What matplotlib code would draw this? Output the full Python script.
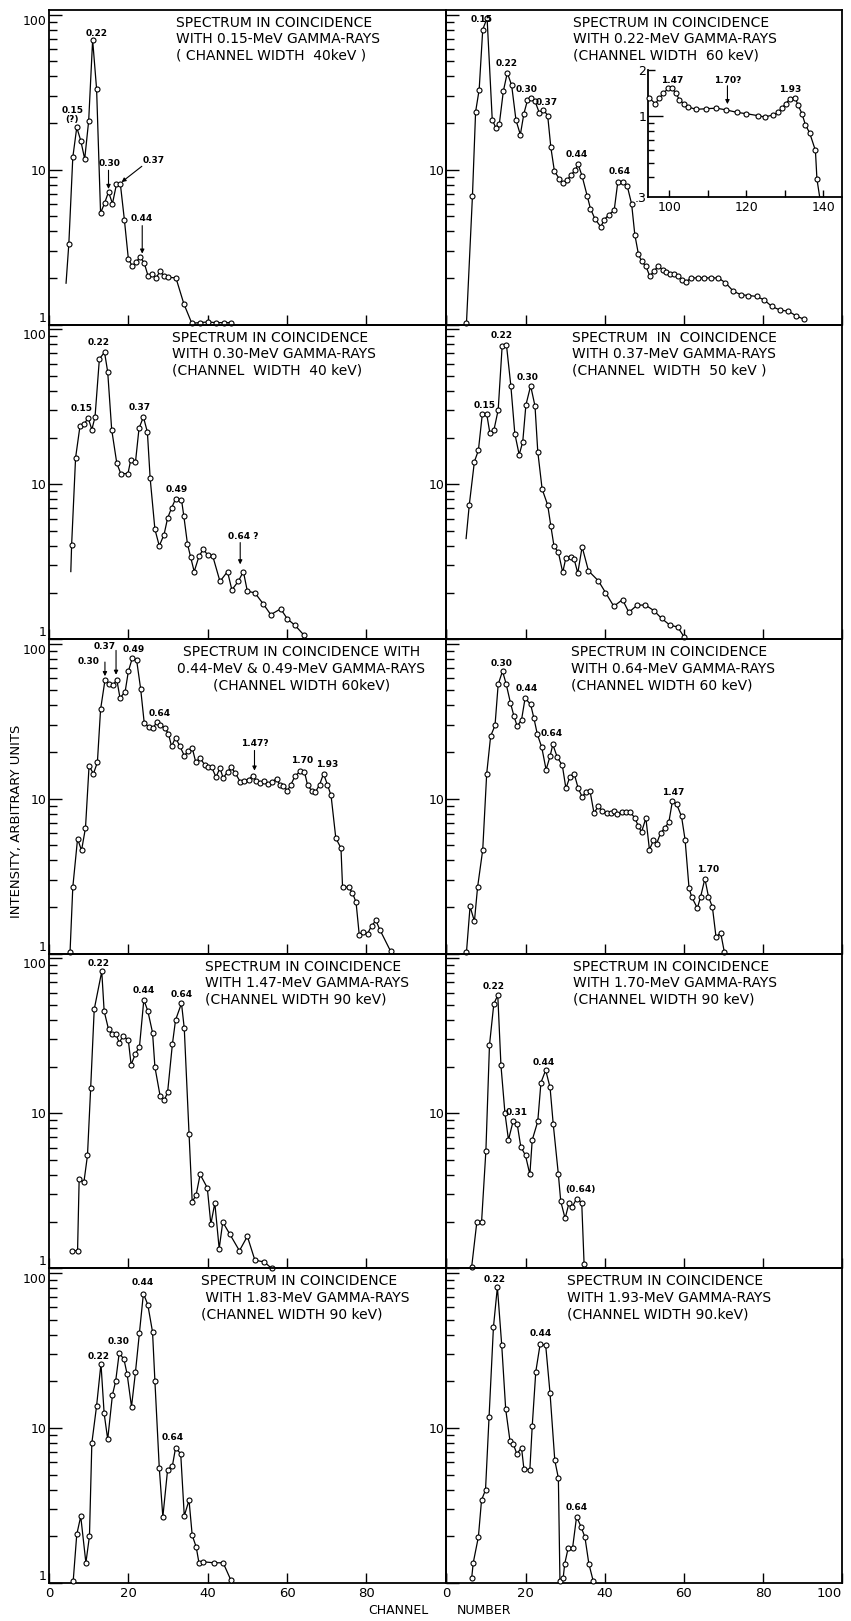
import matplotlib
matplotlib.use("Agg")
import matplotlib.pyplot as plt
from matplotlib.ticker import FixedLocator, FixedFormatter, NullFormatter

plt.rcParams['font.family'] = ['DejaVu Sans']

# ---------------- spectra (channel number, intensity) ----------------
x1 = [4.3, 5, 6, 7, 8, 9, 10, 11, 12, 13, 14, 15, 16, 17, 18, 19, 20, 21, 22, 23, 24,
      25, 26, 27, 28, 29, 30, 32, 34, 36, 38, 40, 42, 44, 46]
y1 = [1.85, 3.32, 12.0, 18.7, 15.4, 11.7, 20.6, 68.6, 33.0, 5.24, 6.07, 7.17, 6.04, 8.02,
      8.02, 4.75, 2.66, 2.38, 2.54, 2.73, 2.50, 2.05, 2.11, 2.00, 2.21, 2.05, 2.02, 2.00,
      1.36, 1.02, 1.03, 1.04, 1.03, 1.03, 1.03]

x2 = [5.1, 6.6, 7.4, 8.3, 9.2, 10.3, 11.6, 12.5, 13.4, 14.4, 15.4, 16.5, 17.6, 18.7, 19.6,
      20.5, 21.5, 22.4, 23.5, 24.5, 25.6, 26.4, 27.3, 28.5, 29.5, 30.6, 31.6, 32.5, 33.3,
      34.3, 35.6, 36.4, 37.5, 39.0, 39.9, 41.1, 42.4, 43.3, 44.5, 45.7, 46.8, 47.6, 48.5,
      49.3, 50.4, 51.4, 52.4, 53.5, 54.6, 55.6, 56.6, 57.6, 58.6, 59.6, 60.5, 61.8, 63.6,
      65.2, 66.8, 68.7, 70.5, 72.5, 74.4, 76.3, 78.4, 80.3, 82.2, 84.3, 86.4, 88.3, 90.4]
y2 = [1.03, 6.73, 23.6, 32.8, 80.0, 95.0, 21.0, 18.6, 19.8, 32.0, 42.1, 35.0, 20.8, 16.8,
      23.0, 28.0, 29.0, 27.6, 23.2, 24.4, 22.3, 13.9, 9.76, 8.75, 8.20, 8.62, 9.29, 9.90,
      10.8, 9.06, 6.73, 5.60, 4.83, 4.27, 4.76, 5.13, 5.47, 8.28, 8.28, 7.81, 6.00, 3.81,
      2.86, 2.56, 2.38, 2.05, 2.21, 2.38, 2.26, 2.18, 2.12, 2.13, 2.05, 1.95, 1.88, 2.00,
      2.00, 2.00, 2.00, 2.00, 1.86, 1.64, 1.56, 1.54, 1.52, 1.44, 1.31, 1.24, 1.22, 1.14,
      1.08]

# high-energy part of the 0.22-MeV spectrum (inset)
xi = [94.8, 96.3, 97.4, 98.4, 99.7, 100.6, 101.7, 102.6, 103.7, 104.8, 107.0, 109.6,
      112.2, 114.8, 117.6, 120.0, 123.0, 124.8, 127.0, 128.3, 129.3, 130.3, 131.4, 132.7,
      133.5, 134.5, 135.4, 136.5, 138.0, 138.4, 139.1]
yi = [1.31, 1.21, 1.31, 1.41, 1.52, 1.53, 1.41, 1.28, 1.21, 1.15, 1.11, 1.12, 1.13, 1.10,
      1.06, 1.04, 1.01, 0.99, 1.02, 1.06, 1.13, 1.21, 1.30, 1.32, 1.18, 1.04, 0.88, 0.78,
      0.60, 0.39, 0.30]

x3 = [5.5, 5.7, 6.7, 7.8, 8.8, 9.9, 10.8, 11.6, 12.7, 14.0, 14.8, 15.8, 17.1, 18.1, 19.9,
      20.6, 21.8, 22.7, 23.8, 24.8, 25.5, 26.7, 27.8, 29.0, 29.9, 30.9, 31.9, 33.4, 34.0,
      34.9, 35.7, 36.6, 37.8, 38.9, 40.0, 41.3, 43.1, 45.0, 46.1, 47.7, 49.0, 50.0, 51.9,
      54.0, 55.9, 58.4, 60.1, 62.0, 64.3]
y3 = [2.73, 4.04, 14.8, 23.6, 24.5, 26.6, 22.5, 27.1, 64.3, 71.0, 52.9, 22.5, 13.6, 11.7,
      11.7, 14.3, 13.9, 23.0, 27.1, 21.7, 10.9, 5.11, 4.00, 4.73, 6.04, 7.03, 8.02, 7.94,
      6.19, 4.12, 3.39, 2.73, 3.42, 3.81, 3.49, 3.42, 2.36, 2.73, 2.08, 2.36, 2.73, 2.04,
      1.99, 1.69, 1.44, 1.57, 1.35, 1.23, 1.06]

x4 = [5.0, 5.8, 7.1, 8.1, 9.1, 10.2, 11.0, 12.0, 13.1, 14.1, 15.2, 16.3, 17.3, 18.4, 19.3,
      20.1, 21.3, 22.4, 23.1, 24.2, 25.6, 26.4, 27.2, 28.3, 29.4, 30.2, 31.5, 32.3, 33.2,
      34.3, 35.9, 38.4, 40.2, 42.3, 44.5, 46.1, 48.2, 50.3, 52.4, 54.4, 56.5, 58.4, 60.1]
y4 = [4.46, 7.34, 14.0, 16.5, 28.4, 28.4, 21.4, 22.2, 30.1, 77.5, 78.7, 43.1, 21.2, 15.5,
      18.7, 32.4, 43.1, 31.9, 16.2, 9.29, 7.34, 5.37, 3.98, 3.63, 2.70, 3.35, 3.40, 3.27,
      2.67, 3.94, 2.76, 2.38, 2.00, 1.63, 1.80, 1.49, 1.66, 1.66, 1.53, 1.36, 1.23, 1.20,
      1.03]

x5 = [5.3, 6.0, 7.2, 8.2, 9.2, 10.1, 11.2, 12.2, 13.0, 14.1, 15.2, 16.2, 17.1, 17.9, 19.2,
      20.0, 21.0, 22.1, 23.1, 24.0, 25.2, 26.3, 27.1, 28.1, 29.2, 30.1, 30.9, 31.9, 33.0,
      34.1, 35.1, 36.1, 37.0, 38.1, 39.2, 40.2, 41.0, 42.1, 43.1, 43.9, 45.0, 45.9, 46.9,
      48.2, 49.2, 50.3, 51.3, 52.2, 53.2, 54.2, 55.3, 56.3, 57.4, 58.2, 59.1, 60.1, 60.9,
      62.0, 63.3, 64.4, 65.2, 66.2, 67.1, 68.2, 69.2, 70.2, 71.1, 72.3, 73.6, 74.0, 75.5,
      76.5, 77.4, 78.2, 79.1, 80.3, 81.3, 82.4, 83.4, 86.1]
y5 = [1.02, 2.69, 5.52, 4.64, 6.50, 16.3, 14.5, 17.2, 37.7, 58.0, 55.2, 54.4, 58.6, 44.6,
      49.2, 66.3, 80.8, 78.0, 51.3, 30.9, 29.0, 28.6, 31.2, 30.0, 28.6, 26.3, 21.8, 24.8,
      21.8, 19.0, 20.2, 21.3, 17.2, 18.3, 16.6, 16.0, 16.0, 13.8, 15.8, 13.6, 14.9, 16.0,
      14.7, 12.9, 13.1, 13.3, 14.0, 13.1, 12.7, 13.1, 12.5, 12.9, 13.5, 12.2, 12.1, 11.3,
      12.2, 14.0, 15.0, 14.9, 12.2, 11.3, 11.0, 12.3, 14.5, 12.3, 10.5, 5.57, 4.81, 2.69,
      2.69, 2.47, 2.15, 1.33, 1.38, 1.35, 1.51, 1.64, 1.43, 1.04]

x6 = [5.1, 6.0, 7.1, 7.9, 9.2, 10.2, 11.2, 12.3, 13.1, 14.2, 15.1, 16.2, 17.1, 17.9, 19.0,
      19.9, 21.3, 22.1, 23.0, 24.1, 25.2, 26.2, 26.9, 28.0, 29.3, 30.2, 31.2, 32.3, 33.3,
      34.3, 35.2, 36.3, 37.3, 38.4, 39.4, 40.5, 41.5, 42.3, 43.2, 44.3, 45.4, 46.4, 47.6,
      48.5, 49.3, 50.4, 51.3, 52.3, 53.1, 54.1, 55.2, 56.2, 57.1, 58.2, 59.4, 60.3, 61.3,
      62.0, 63.4, 64.2, 65.3, 66.2, 67.2, 68.1, 69.3, 70.2]
y6 = [1.03, 2.02, 1.62, 2.69, 4.69, 14.5, 25.4, 29.7, 54.7, 66.6, 55.2, 41.6, 34.0, 29.4,
      32.3, 44.6, 40.6, 33.3, 26.0, 21.5, 15.4, 18.8, 22.4, 18.6, 16.4, 11.7, 13.8, 14.5,
      11.7, 10.3, 11.0, 11.2, 8.08, 8.97, 8.33, 8.12, 8.12, 8.28, 7.93, 8.20, 8.20, 8.20,
      7.54, 6.66, 6.10, 7.50, 4.69, 5.39, 5.13, 6.00, 6.50, 7.07, 9.66, 9.19, 7.69, 5.44,
      2.65, 2.32, 1.97, 2.32, 3.05, 2.34, 2.00, 1.29, 1.36, 1.03]

x7 = [5.7, 7.2, 7.6, 8.8, 9.7, 10.5, 11.4, 13.3, 13.9, 15.0, 15.8, 16.9, 17.7, 18.7, 20.0,
      20.7, 21.8, 22.8, 23.9, 24.9, 26.1, 26.7, 28.0, 29.1, 29.9, 31.1, 31.9, 33.4, 34.1,
      35.3, 36.1, 37.1, 38.1, 39.9, 40.8, 41.8, 42.9, 43.8, 45.6, 48.0, 50.0, 51.9, 54.3,
      56.1]
y7 = [1.30, 1.30, 3.75, 3.60, 5.36, 14.5, 46.9, 82.4, 45.7, 34.9, 32.3, 32.3, 28.6, 31.6,
      29.6, 20.6, 24.3, 26.8, 53.9, 45.9, 33.2, 19.9, 13.0, 12.2, 13.7, 27.9, 40.0, 51.3,
      35.3, 7.41, 2.68, 2.99, 4.04, 3.31, 1.93, 2.64, 1.34, 1.99, 1.66, 1.30, 1.61, 1.13,
      1.10, 1.00]

x8 = [6.4, 7.7, 8.9, 10.0, 10.9, 12.0, 13.0, 13.8, 14.8, 15.7, 16.9, 17.9, 18.8, 20.0,
      21.1, 21.7, 23.1, 23.9, 25.1, 26.2, 27.0, 28.3, 28.9, 30.0, 31.0, 31.8, 32.9, 34.2,
      34.8]
y8 = [1.02, 1.98, 1.98, 5.75, 27.5, 50.9, 57.8, 20.4, 10.1, 6.74, 8.97, 8.54, 6.11, 5.35,
      4.04, 6.74, 8.88, 15.8, 19.0, 14.7, 8.54, 4.04, 2.71, 2.10, 2.65, 2.49, 2.82, 2.65,
      1.06]

x9 = [6.1, 7.0, 8.0, 9.3, 10.2, 10.8, 12.0, 13.1, 13.9, 14.8, 16.0, 16.8, 17.7, 18.9, 19.7,
      20.8, 21.8, 22.8, 23.8, 24.9, 26.1, 26.7, 27.8, 28.7, 29.9, 31.1, 31.9, 33.2, 34.1,
      35.3, 36.1, 37.1, 37.8, 38.9, 41.6, 43.9, 45.8]
y9 = [1.03, 2.06, 2.69, 1.35, 2.01, 8.00, 13.9, 26.0, 12.4, 8.45, 16.4, 20.0, 30.5, 27.7,
      22.2, 13.7, 23.0, 41.2, 73.6, 62.5, 41.6, 20.0, 5.52, 2.67, 5.39, 5.69, 7.43, 6.83,
      2.71, 3.42, 2.03, 1.71, 1.35, 1.37, 1.35, 1.35, 1.05]

x10 = [6.4, 6.8, 8.1, 8.9, 9.9, 10.8, 11.9, 12.9, 14.0, 15.0, 16.1, 16.9, 17.8, 19.0, 19.6,
       21.1, 21.7, 22.6, 23.7, 25.1, 26.2, 27.4, 28.3, 28.7, 29.5, 29.9, 30.8, 31.9, 32.9,
       34.0, 35.0, 36.0, 37.1]
y10 = [1.07, 1.35, 1.98, 3.43, 3.98, 11.8, 44.6, 81.1, 34.1, 13.2, 8.19, 7.91, 6.81, 7.45,
       5.44, 5.39, 10.3, 23.1, 34.8, 34.1, 16.7, 6.17, 4.76, 1.03, 1.07, 1.33, 1.69, 1.69,
       2.68, 2.31, 1.98, 1.33, 1.03]

# ---------------- panel captions ----------------
titles = [
    "SPECTRUM IN COINCIDENCE\nWITH 0.15-MeV GAMMA-RAYS\n( CHANNEL WIDTH  40keV )",
    "SPECTRUM IN COINCIDENCE\nWITH 0.22-MeV GAMMA-RAYS\n(CHANNEL WIDTH  60 keV)",
    "SPECTRUM IN COINCIDENCE\nWITH 0.30-MeV GAMMA-RAYS\n(CHANNEL  WIDTH  40 keV)",
    "SPECTRUM  IN  COINCIDENCE\nWITH 0.37-MeV GAMMA-RAYS\n(CHANNEL  WIDTH  50 keV )",
    "SPECTRUM IN COINCIDENCE WITH\n0.44-MeV & 0.49-MeV GAMMA-RAYS\n(CHANNEL WIDTH 60keV)",
    "SPECTRUM IN COINCIDENCE\nWITH 0.64-MeV GAMMA-RAYS\n(CHANNEL WIDTH 60 keV)",
    "SPECTRUM IN COINCIDENCE\nWITH 1.47-MeV GAMMA-RAYS\n(CHANNEL WIDTH 90 keV)",
    "SPECTRUM IN COINCIDENCE\nWITH 1.70-MeV GAMMA-RAYS\n(CHANNEL WIDTH 90 keV)",
    "SPECTRUM IN COINCIDENCE\n WITH 1.83-MeV GAMMA-RAYS\n(CHANNEL WIDTH 90 keV)",
    "SPECTRUM IN COINCIDENCE\nWITH 1.93-MeV GAMMA-RAYS\n(CHANNEL WIDTH 90.keV)",
]

# peak identifications (x, y, text)
peaks1 = [(12.0, 75.3, "0.22"), (5.9, 22.5, "0.15\n(?)"), (15.2, 10.9, "0.30"),
          (26.3, 11.4, "0.37"), (23.4, 4.8, "0.44")]
peaks2 = [(8.9, 92.9, "0.15"), (15.2, 48.1, "0.22"), (20.3, 32.8, "0.30"),
          (25.3, 26.9, "0.37"), (32.9, 12.5, "0.44"), (43.7, 9.76, "0.64")]
peaks3 = [(12.4, 82.2, "0.22"), (8.2, 30.9, "0.15"), (22.8, 31.3, "0.37"),
          (32.2, 9.29, "0.49"), (49.0, 4.57, "0.64 ?")]
peaks4 = [(14.0, 90.6, "0.22"), (9.6, 32.4, "0.15"), (20.5, 49.1, "0.30")]
peaks5 = [(9.9, 76.9, "0.30"), (14.1, 96.6, "0.37"), (21.4, 91.9, "0.49"),
          (27.8, 35.3, "0.64"), (51.9, 22.6, "1.47?"), (63.9, 17.7, "1.70"),
          (70.2, 16.6, "1.93")]
peaks6 = [(14.0, 74.3, "0.30"), (20.3, 51.3, "0.44"), (26.6, 26.3, "0.64"),
          (57.3, 11.0, "1.47"), (66.2, 3.50, "1.70")]
peaks7 = [(12.4, 93.3, "0.22"), (23.8, 61.7, "0.44"), (33.4, 58.1, "0.64")]
peaks8 = [(11.9, 66.1, "0.22"), (17.8, 10.1, "0.31"), (24.7, 21.3, "0.44"),
          (33.8, 3.23, "(0.64)")]
peaks9 = [(23.6, 86.2, "0.44"), (17.5, 35.9, "0.30"), (12.4, 29.0, "0.22"),
          (31.2, 8.66, "0.64")]
peaks10 = [(12.1, 91.0, "0.22"), (23.9, 40.6, "0.44"), (32.9, 3.07, "0.64")]
peaks_inset = [(100.8, 1.72, "1.47"), (115.1, 1.71, "1.70?"), (131.3, 1.50, "1.93")]

# arrows (x_from, y_from, x_to, y_to)
arrows1 = [(15.0, 9.9, 15.0, 7.5), (23.4, 10.5, 18.3, 8.3), (23.5, 4.35, 23.5, 2.87)]
arrows3 = [(48.2, 4.2, 48.2, 3.04)]
arrows5 = [(14.1, 76.2, 14.1, 61.8), (16.9, 90.6, 16.9, 63.1), (51.8, 20.5, 51.8, 15.2)]
arrows_inset = [(115.1, 1.58, 115.1, 1.20)]

# ---------------- layout (pixels) ----------------
W, H = 851, 1621
fig = plt.figure(figsize=(W / 100, H / 100), dpi=100)

TOP = 10.0
ROW_H = 314.6
COL_X = [49.0, 446.3]
COL_W = [396.7, 396.0]
YMAX = 107.0


def rect(px_left, px_top, px_w, px_h):
    return [px_left / W, 1 - (px_top + px_h) / H, px_w / W, px_h / H]


panels = [
    dict(x=x1, y=y1, lead=True, peaks=peaks1, arrows=arrows1, tx=0.32, ha='left'),
    dict(x=x2, y=y2, lead=False, peaks=peaks2, arrows=[], tx=0.319, ha='left'),
    dict(x=x3, y=y3, lead=True, peaks=peaks3, arrows=arrows3, tx=0.31, ha='left'),
    dict(x=x4, y=y4, lead=True, peaks=peaks4, arrows=[], tx=0.317, ha='left'),
    dict(x=x5, y=y5, lead=False, peaks=peaks5, arrows=arrows5, tx=0.636, ha='center'),
    dict(x=x6, y=y6, lead=False, peaks=peaks6, arrows=[], tx=0.314, ha='left'),
    dict(x=x7, y=y7, lead=False, peaks=peaks7, arrows=[], tx=0.393, ha='left'),
    dict(x=x8, y=y8, lead=False, peaks=peaks8, arrows=[], tx=0.319, ha='left'),
    dict(x=x9, y=y9, lead=False, peaks=peaks9, arrows=[], tx=0.382, ha='left'),
    dict(x=x10, y=y10, lead=False, peaks=peaks10, arrows=[], tx=0.306, ha='left'),
]

LINE_KW = dict(color='black', lw=0.9, marker='o', ms=3.6, mfc='white', mec='black',
               mew=0.8, clip_on=False, zorder=3)
PEAK_KW = dict(fontsize=6.5, fontweight='bold', ha='center', va='center',
               linespacing=1.05, zorder=4)
ARROW_KW = dict(arrowstyle='-|>', lw=0.8, color='black', mutation_scale=6,
                shrinkA=0, shrinkB=0)

minor_y = [2, 3, 4, 5, 6, 7, 8, 9, 20, 30, 40, 50, 60, 70, 80, 90]

for i, p in enumerate(panels):
    row, col = divmod(i, 2)
    ax = fig.add_axes(rect(COL_X[col], TOP + row * ROW_H, COL_W[col], ROW_H))
    ax.set_facecolor('none')
    ax.set_yscale('log')
    ax.set_xlim(0, 100)
    ax.set_ylim(1, YMAX)
    for side in ('left', 'right', 'top', 'bottom'):
        ax.spines[side].set_linewidth(1.3)

    n = len(p['x'])
    mk = list(range(1, n)) if p['lead'] else None
    ax.plot(p['x'], p['y'], markevery=mk, **LINE_KW)

    for (px, py, t) in p['peaks']:
        ax.text(px, py, t, **PEAK_KW)
    for (xa, ya, xb, yb) in p['arrows']:
        ax.annotate("", xy=(xb, yb), xytext=(xa, ya), arrowprops=ARROW_KW,
                    annotation_clip=False)

    ax.text(p['tx'], 1 - 6.0 / ROW_H, titles[i], transform=ax.transAxes,
            ha=p['ha'], va='top', multialignment=p['ha'], fontsize=10,
            linespacing=1.22)

    # y axis: log decades, ticks pointing inward on the left spine only
    ax.yaxis.set_major_locator(FixedLocator([1, 10, 100]))
    ax.yaxis.set_minor_locator(FixedLocator(minor_y))
    ax.yaxis.set_minor_formatter(NullFormatter())
    if col == 0:
        ax.yaxis.set_major_formatter(FixedFormatter(['1', '10', '100']))
    else:
        ax.yaxis.set_major_formatter(FixedFormatter(['', '10', '']))
    ax.tick_params(axis='y', which='major', direction='in', length=9.5, width=1.0,
                   left=True, right=False, labelsize=9, pad=1.5)
    ax.tick_params(axis='y', which='minor', direction='in', length=5.5, width=1.0,
                   left=True, right=False)
    ytk = ax.yaxis.get_major_ticks()
    ytk[0].label1.set_verticalalignment('bottom')
    ytk[2].label1.set_verticalalignment('top')

    # x axis: channel numbers
    ax.xaxis.set_major_locator(FixedLocator([0, 20, 40, 60, 80, 100]))
    ax.xaxis.set_minor_locator(FixedLocator([]))
    if row == 4:
        labs = ['0', '20', '40', '60', '80', '' if col == 0 else '100']
        ax.xaxis.set_major_formatter(FixedFormatter(labs))
    else:
        ax.xaxis.set_major_formatter(NullFormatter())
    ax.tick_params(axis='x', which='major', direction='in', length=7, width=1.0,
                   bottom=True, top=False, labelsize=9.5, pad=3)
    if row == 4 and col == 1:
        ax.xaxis.get_major_ticks()[5].label1.set_horizontalalignment('right')

# ---------------- inset: high-energy end of the 0.22-MeV spectrum ----------------
ins_left, ins_top = 648.3, 70.0
ins_right, ins_bottom = COL_X[1] + COL_W[1], 196.7
axi = fig.add_axes(rect(ins_left, ins_top, ins_right - ins_left, ins_bottom - ins_top))
axi.set_facecolor('none')
axi.set_yscale('log')
axi.set_xlim(94.5, 145)
axi.set_ylim(0.3, 2)
axi.spines['right'].set_visible(False)
axi.spines['top'].set_visible(False)
axi.spines['left'].set_linewidth(1.3)
axi.spines['bottom'].set_linewidth(1.3)
axi.plot(xi, yi, markevery=list(range(len(xi) - 1)), **LINE_KW)
for (px, py, t) in peaks_inset:
    axi.text(px, py, t, **PEAK_KW)
for (xa, ya, xb, yb) in arrows_inset:
    axi.annotate("", xy=(xb, yb), xytext=(xa, ya), arrowprops=ARROW_KW,
                 annotation_clip=False)
axi.yaxis.set_major_locator(FixedLocator([0.3, 1, 2]))
axi.yaxis.set_major_formatter(FixedFormatter(['.3', '1', '2']))
axi.yaxis.set_minor_locator(FixedLocator([0.4, 0.5, 0.6, 0.7, 0.8, 0.9]))
axi.yaxis.set_minor_formatter(NullFormatter())
axi.tick_params(axis='y', which='major', direction='in', length=5, width=1.0,
                left=True, right=False, labelsize=9, pad=1.5)
axi.tick_params(axis='y', which='minor', direction='in', length=4.5, width=1.0,
                left=True, right=False)
for tk, size in zip(axi.yaxis.get_major_ticks(), [0, 10.5, 5]):
    tk.tick1line.set_markersize(size)
axi.xaxis.set_major_locator(FixedLocator([100, 110, 120, 130, 140]))
axi.xaxis.set_major_formatter(FixedFormatter(['100', '', '120', '', '140']))
axi.tick_params(axis='x', which='major', direction='in', length=5, width=1.0,
                bottom=True, top=False, labelsize=9, pad=3)

# ---------------- shared axis titles ----------------
fig.text(17 / W, 1 - 821 / H, "INTENSITY, ARBITRARY UNITS", rotation=90,
         ha='center', va='center', fontsize=9.5)
fig.text(398 / W, 1 - 1610 / H, "CHANNEL", ha='center', va='center', fontsize=9)
fig.text(484 / W, 1 - 1610 / H, "NUMBER", ha='center', va='center', fontsize=9)

fig.savefig("out.png", dpi=100, facecolor='white')
